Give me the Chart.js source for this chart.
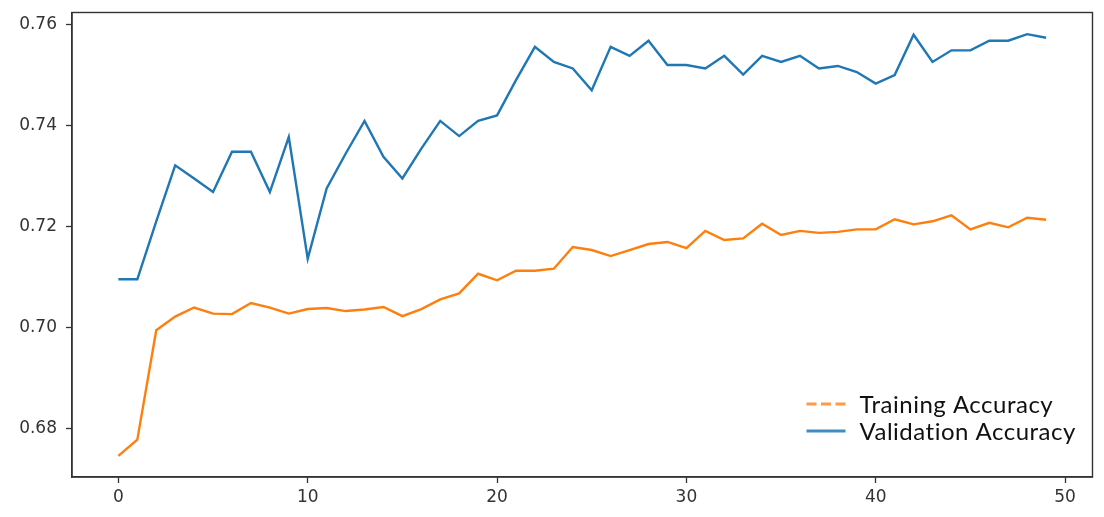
<!DOCTYPE html>
<html>
<head>
<meta charset="utf-8">
<script src="https://cdn.jsdelivr.net/npm/chart.js@4"></script>
<style>
  html, body { margin: 0; padding: 0; background: #ffffff; }
  #wrap { width: 1104px; height: 517px; position: relative; }
</style>
</head>
<body>
<div id="wrap"><canvas id="c" width="1104" height="517"></canvas></div>
<script>
const epochs = [0,1,2,3,4,5,6,7,8,9,10,11,12,13,14,15,16,17,18,19,20,21,22,23,24,25,26,27,28,29,30,31,32,33,34,35,36,37,38,39,40,41,42,43,44,45,46,47,48,49];
const trainAcc = [0.6745,0.6777,0.6994,0.7021,0.7039,0.7027,0.7026,0.7048,0.7039,0.7027,0.7036,0.7038,0.7032,0.7035,0.7040,0.7022,0.7036,0.7055,0.7067,0.7106,0.7093,0.7112,0.7112,0.7116,0.7159,0.7153,0.7141,0.7153,0.7165,0.7169,0.7157,0.7191,0.7173,0.7176,0.7205,0.7183,0.7191,0.7187,0.7189,0.7194,0.7194,0.7214,0.7204,0.7210,0.7222,0.7194,0.7207,0.7198,0.7217,0.7213];
const valAcc = [0.7095,0.7095,0.7210,0.7321,0.7295,0.7268,0.7348,0.7348,0.7268,0.7377,0.7136,0.7275,0.7344,0.7409,0.7338,0.7295,0.7354,0.7409,0.7379,0.7409,0.7420,0.7490,0.7556,0.7526,0.7513,0.7470,0.7556,0.7538,0.7568,0.7520,0.7520,0.7513,0.7538,0.7501,0.7538,0.7526,0.7538,0.7513,0.7518,0.7506,0.7483,0.7500,0.7580,0.7526,0.7549,0.7549,0.7568,0.7568,0.7581,0.7574];
const xTicks = [0,10,20,30,40,50];
const yTicks = [0.68,0.70,0.72,0.74,0.76];
const seriesLabels = ['Training Accuracy','Validation Accuracy'];

const AXIS_COLOR = '#333333';
const TICK_FONT = { family: '"DejaVu Sans", sans-serif', size: 17 };

const frameAndLegend = {
  id: 'frameAndLegend',
  afterDraw(chart) {
    const ctx = chart.ctx;
    const a = chart.chartArea;
    ctx.save();
    ctx.strokeStyle = AXIS_COLOR;
    ctx.lineWidth = 1.4;
    ctx.strokeRect(a.left, a.top, a.right - a.left, a.bottom - a.top);
    // legend (lower right, inside plot, no frame)
    const items = [
      { text: chart.data.datasets[0].label, color: '#ff9a47', dash: [10, 4.5] },
      { text: chart.data.datasets[1].label, color: '#3f8cc6', dash: [] }
    ];
    const rowsY = [a.bottom - 73, a.bottom - 46];
    const x0 = a.right - 286, x1 = a.right - 247, tx = a.right - 233;
    ctx.font = '24px Lato, sans-serif';
    try { ctx.letterSpacing = '0.5px'; } catch (e) {}
    ctx.textBaseline = 'middle';
    ctx.textAlign = 'left';
    items.forEach((it, i) => {
      ctx.beginPath();
      ctx.setLineDash(it.dash);
      ctx.strokeStyle = it.color;
      ctx.lineWidth = 3;
      ctx.moveTo(x0, rowsY[i]);
      ctx.lineTo(x1, rowsY[i]);
      ctx.stroke();
      ctx.setLineDash([]);
      ctx.fillStyle = '#111111';
      ctx.fillText(it.text, tx, rowsY[i] + 1);
    });
    ctx.restore();
  }
};

new Chart(document.getElementById('c'), {
  type: 'line',
  data: {
    datasets: [
      {
        label: seriesLabels[0],
        data: epochs.map((e, i) => ({ x: e, y: trainAcc[i] })),
        borderColor: '#ff7f0e',
        borderWidth: 2.4,
        pointRadius: 0,
        tension: 0,
        fill: false
      },
      {
        label: seriesLabels[1],
        data: epochs.map((e, i) => ({ x: e, y: valAcc[i] })),
        borderColor: '#1f77b4',
        borderWidth: 2.4,
        pointRadius: 0,
        tension: 0,
        fill: false
      }
    ]
  },
  options: {
    responsive: false,
    animation: false,
    devicePixelRatio: 1,
    layout: { padding: { left: 0, top: 12.5, right: 11.5, bottom: 0 } },
    plugins: {
      legend: { display: false },
      tooltip: { enabled: false }
    },
    scales: {
      x: {
        type: 'linear',
        min: -2.45,
        max: 51.45,
        afterBuildTicks: (s) => { s.ticks = xTicks.map(v => ({ value: v })); },
        afterFit: (s) => { s.height = 40; s.paddingLeft = 0; s.paddingRight = 0; },
        ticks: {
          color: '#333333',
          font: TICK_FONT,
          padding: 4,
          maxRotation: 0,
          callback: (v) => String(v)
        },
        grid: {
          display: true,
          drawOnChartArea: false,
          drawTicks: true,
          tickLength: 6,
          tickColor: AXIS_COLOR,
          tickWidth: 1.3
        },
        border: { display: true, color: AXIS_COLOR, width: 1.4 }
      },
      y: {
        type: 'linear',
        min: 0.6703,
        max: 0.7624,
        afterBuildTicks: (s) => { s.ticks = yTicks.map(v => ({ value: v })); },
        afterFit: (s) => { s.width = 72; s.paddingTop = 0; s.paddingBottom = 0; },
        ticks: {
          color: '#333333',
          font: TICK_FONT,
          padding: 9,
          callback: (v) => Number(v).toFixed(2)
        },
        grid: {
          display: true,
          drawOnChartArea: false,
          drawTicks: true,
          tickLength: 6,
          tickColor: AXIS_COLOR,
          tickWidth: 1.3
        },
        border: { display: true, color: AXIS_COLOR, width: 1.4 }
      }
    }
  },
  plugins: [frameAndLegend]
});
</script>
</body>
</html>
